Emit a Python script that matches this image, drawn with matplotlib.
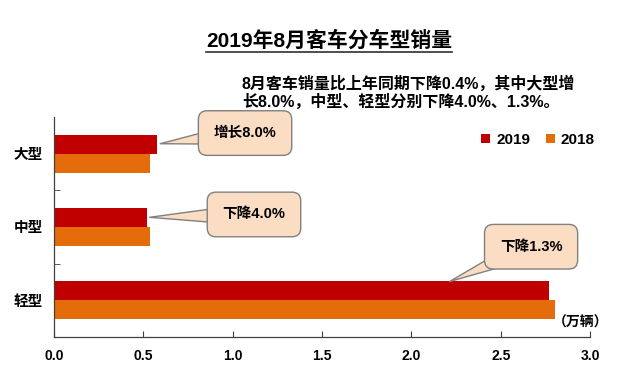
import matplotlib
matplotlib.use("Agg")
import matplotlib.pyplot as plt
import numpy as np
from matplotlib.lines import Line2D
from matplotlib.transforms import IdentityTransform

plt.rcParams['font.family'] = ['Liberation Sans', 'Noto Sans CJK SC', 'DejaVu Sans']
plt.rcParams['font.weight'] = 'bold'

categories = ['大型', '中型', '轻型']
sales_2019 = [0.58, 0.52, 2.77]
sales_2018 = [0.54, 0.54, 2.806]
series_labels = ['2019', '2018']
callouts = ['增长8.0%', '下降4.0%', '下降1.3%']
x_ticks = [0.0, 0.5, 1.0, 1.5, 2.0, 2.5, 3.0]

c2019 = '#C00000'
c2018 = '#E46C0A'
peach = '#FBDDC4'
boxedge = '#808080'

fig = plt.figure(figsize=(6.4, 3.76), dpi=100)
fig.patch.set_facecolor('white')
ax = fig.add_axes([0.084, 0.104, 0.838, 0.585])

y = np.arange(len(categories))
h = 0.26
ax.barh(y - h / 2, sales_2019, height=h, color=c2019, label=series_labels[0])
ax.barh(y + h / 2, sales_2018, height=h, color=c2018, label=series_labels[1])

ax.set_xlim(0, 3.0)
ax.set_ylim(2.5, -0.5)
ax.set_xticks(x_ticks)
ax.set_xticklabels([f'{v:.1f}' for v in x_ticks], fontsize=10, fontweight='bold')
ax.set_yticks(y)
ax.set_yticklabels(categories, fontsize=10.5, fontweight='bold')
ax.set_yticks([0.5, 1.5], minor=True)
ax.tick_params(axis='x', direction='in', length=4, pad=9, color='#404040')
ax.tick_params(axis='y', which='major', length=0, pad=8)
ax.tick_params(axis='y', which='minor', direction='in', length=4, color='#404040')
for s in ['top', 'right']:
    ax.spines[s].set_visible(False)
for s in ['left', 'bottom']:
    ax.spines[s].set_color('#404040')
    ax.spines[s].set_linewidth(0.9)

# callouts
targets = [(sales_2019[0], y[0] - h / 2), (sales_2019[1], y[1] - h / 2), (2.2, y[2] - h + 0.02)]
text_pos = [(1.07, -0.28), (1.12, 0.83), (2.67, 1.27)]
for txt, xy, xt in zip(callouts, targets, text_pos):
    ax.annotate(txt, xy=xy, xytext=xt, textcoords='data', ha='center', va='center',
                fontsize=10.5, fontweight='bold', color='black',
                bbox=dict(boxstyle='round,pad=1.05,rounding_size=0.6', fc=peach, ec=boxedge, lw=1.0),
                arrowprops=dict(arrowstyle='wedge,tail_width=1.5,shrink_factor=0.5',
                                fc=peach, ec=boxedge, lw=1.0, patchA=None),
                annotation_clip=False, zorder=5)

leg = ax.legend(loc='center', bbox_to_anchor=(538 / 640, 1 - 140 / 376),
                bbox_transform=fig.transFigure, ncol=2, frameon=False,
                handlelength=0.6, handleheight=0.6, handletextpad=0.4,
                columnspacing=1.0, prop={'size': 11, 'weight': 'bold'})

fig.text(581 / 640, 1 - 323 / 376, '（万辆）', ha='center', va='center',
         fontsize=10, fontweight='bold')

title = fig.text(329 / 640, 1 - 41 / 376, '2019年8月客车分车型销量', ha='center', va='center',
                 fontsize=15, fontweight='bold')
fig.text(242 / 640, 1 - 84 / 376, '8月客车销量比上年同期下降0.4%，其中大型增',
         ha='left', va='center', fontsize=11.5, fontweight='bold')
fig.text(242 / 640, 1 - 102 / 376, '长8.0%，中型、轻型分别下降4.0%、1.3%。',
         ha='left', va='center', fontsize=11.5, fontweight='bold')

fig.canvas.draw()
bb = title.get_window_extent(fig.canvas.get_renderer())
fig.add_artist(Line2D([bb.x0, bb.x1], [bb.y0 - 1, bb.y0 - 1], transform=IdentityTransform(),
                      color='#303030', lw=1.2))

fig.savefig('out.png', dpi=100, facecolor='white')
